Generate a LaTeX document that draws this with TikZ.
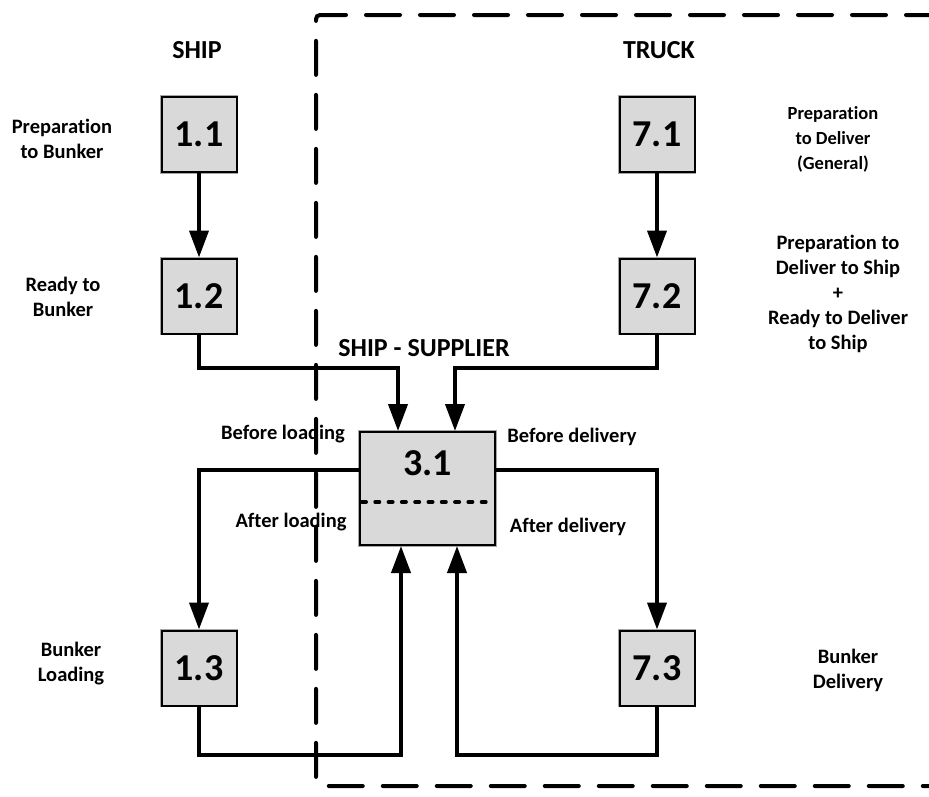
\documentclass[tikz,border=0pt]{standalone}
\usepackage{fontspec}
\setmainfont{Carlito}[Ligatures=NoCommon]
\usetikzlibrary{arrows.meta}
\begin{document}
\begin{tikzpicture}[x=1pt,y=-1pt,
  numbox/.style={draw=black, line width=2pt, fill=boxgray, minimum width=75pt, minimum height=75pt,
     inner sep=0pt, font=\fontsize{38}{40}\selectfont\bfseries,
     preaction={draw=gray!70, line width=3.6pt}},
  lbl/.style={inner sep=0pt, align=center, font=\fontsize{20.5}{25}\selectfont\bfseries},
  lblsmall/.style={inner sep=0pt, align=center, font=\fontsize{18.5}{25}\selectfont\bfseries},
  head/.style={inner sep=0pt, font=\fontsize{26}{30}\selectfont\bfseries},
  conn/.style={line width=4pt, -{Triangle[length=27pt,width=19pt]}, line join=miter},
  boundary/.style={line width=4pt, dash pattern=on 34pt off 20pt, line cap=round, rounded corners=4pt}
]
\definecolor{boxgray}{HTML}{D9D9D9}
\useasboundingbox (0,0) rectangle (929,796);

% boxes
\node[numbox] (b11) at (199,134.5) {1.1};
\node[numbox] (b12) at (199,296) {1.2};
\node[numbox] (b13) at (199,668) {1.3};
\node[numbox] (b71) at (657,134.5) {7.1};
\node[numbox] (b72) at (657,296) {7.2};
\node[numbox] (b73) at (657,668) {7.3};
\node[numbox, minimum width=135pt, minimum height=113pt] (b31) at (427.5,488.5) {};
\node[inner sep=0pt, font=\fontsize{38}{40}\selectfont\bfseries] (t31) at (427.5,463) {3.1};
\coordinate (dl) at (362,502);
\coordinate (dr) at (494,502);
\draw[line width=4pt, line cap=round, dash pattern=on 4pt off 9.3pt] (dl) -- (dr);

% labels
\node[head] (lship) at (197,50) {SHIP};
\node[head] (ltruck) at (659,50) {TRUCK};
\node[head] (lss) at (424,348) {SHIP - SUPPLIER};
\node[lbl] (l11) at (62,139) {Preparation\\to Bunker};
\node[lbl] (l12) at (63,297) {Ready to\\Bunker};
\node[lbl] (l13) at (71,664) {Bunker\\Loading};
\node[lblsmall] (l71) at (833,139) {Preparation\\to Deliver\\(General)};
\node[lbl] (l72) at (838,294) {Preparation to\\Deliver to Ship\\+\\Ready to Deliver\\to Ship};
\node[lbl] (l73) at (848,670) {Bunker\\Delivery};
\node[lbl] (bl) at (283,434) {Before loading};
\node[lbl] (bd) at (572,437) {Before delivery};
\node[lbl] (al) at (291,522) {After loading};
\node[lbl] (ad) at (568,527) {After delivery};

% connectors
\draw[conn] (b11.south) -- (b12.north);
\draw[conn] (b71.south) -- (b72.north);
\draw[conn] (b12.south) |- (398,368) -- (b31.north -| 398,0);
\draw[conn] (b72.south) |- (455,368) -- (b31.north -| 455,0);
\draw[conn] (b31.west |- 0,470) -| (b13.north);
\draw[conn] (b31.east |- 0,470) -| (b73.north);
\draw[conn] (b13.south) |- (401,755) -- (b31.south -| 401,0);
\draw[conn] (b73.south) |- (457,755) -- (b31.south -| 457,0);

% boundary
\coordinate (btr) at (940,15);
\coordinate (btl) at (316,15);
\coordinate (bbl) at (316,786);
\coordinate (bbr) at (940,786);
\draw[boundary] (btr) -- (btl) -- (bbl) -- (bbr);
\end{tikzpicture}
\end{document}
